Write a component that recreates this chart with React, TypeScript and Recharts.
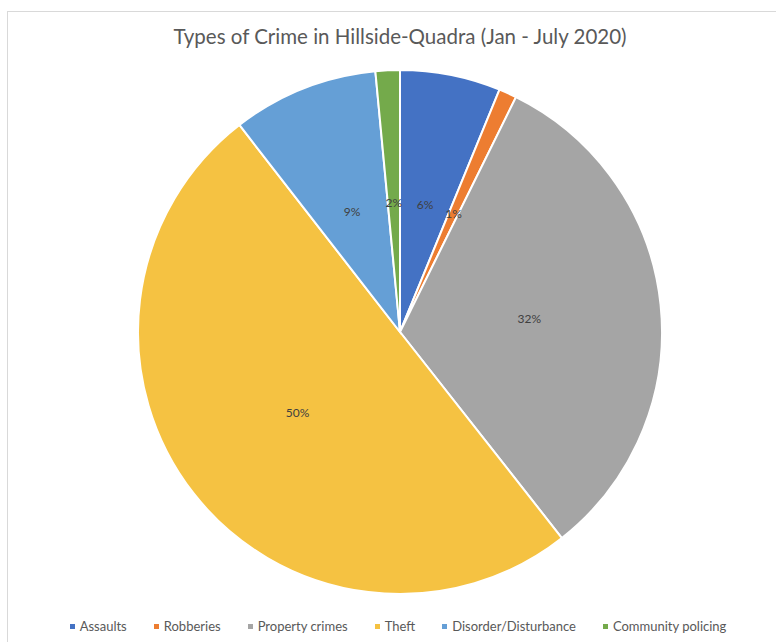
import { PieChart, Pie, Cell, Legend } from 'recharts'

const categories = [
  'Assaults',
  'Robberies',
  'Property crimes',
  'Theft',
  'Disorder/Disturbance',
  'Community policing',
]
const shares = [6.2, 1.1, 32.1, 50.1, 9.0, 1.5]
const colors = ['#4472C4', '#ED7D31', '#A5A5A5', '#F5C242', '#659FD6', '#74AA4B']

const data = categories.map((name, i) => ({ name, value: shares[i] }))

const RADIAN = Math.PI / 180

const renderLabel = (props: any) => {
  const { cx, cy, midAngle, percent } = props
  const r = 130
  const x = cx + r * Math.cos(-midAngle * RADIAN)
  const y = cy + r * Math.sin(-midAngle * RADIAN)
  return (
    <text
      x={x}
      y={y}
      fill="#404040"
      fontSize={12}
      fontFamily="Lato, sans-serif"
      textAnchor="middle"
      dominantBaseline="central"
    >
      {`${Math.round(percent * 100)}%`}
    </text>
  )
}

// keep the legend in the data order, not alphabetical
const renderLegend = (props: any) => {
  const items = [...props.payload].sort(
    (a: any, b: any) => categories.indexOf(a.value) - categories.indexOf(b.value)
  )
  return (
    <div
      style={{
        display: 'flex',
        justifyContent: 'center',
        gap: 27,
        fontFamily: 'Lato, sans-serif',
        fontSize: 13,
        color: '#595959',
        paddingLeft: 20,
      }}
    >
      {items.map((entry: any) => (
        <span key={entry.value} style={{ display: 'flex', alignItems: 'center' }}>
          <span
            style={{
              width: 5,
              height: 5,
              background: entry.color,
              marginRight: 5,
              display: 'inline-block',
            }}
          />
          {entry.value}
        </span>
      ))}
    </div>
  )
}

export default function App() {
  return (
    <div style={{ position: 'relative', width: 776, height: 642, overflow: 'hidden', background: '#fff' }}>
      <style>{'body{margin:0}'}</style>
      <div
        style={{
          position: 'absolute',
          left: 7,
          top: 11,
          width: 800,
          height: 700,
          border: '1px solid #D9D9D9',
        }}
      />
      <div
        style={{
          position: 'absolute',
          top: 24,
          left: 0,
          width: 800,
          textAlign: 'center',
          fontFamily: 'Lato, sans-serif',
          fontSize: 20.5,
          color: '#595959',
        }}
      >
        Types of Crime in Hillside-Quadra (Jan - July 2020)
      </div>
      <div style={{ position: 'absolute', left: 0, top: 0 }}>
        <PieChart width={776} height={642} margin={{ top: 0, right: 0, bottom: 0, left: 0 }}>
          <Pie
            data={data}
            dataKey="value"
            nameKey="name"
            cx={400}
            cy={332}
            outerRadius={262}
            startAngle={90}
            endAngle={-270}
            stroke="#fff"
            strokeWidth={2}
            label={renderLabel}
            labelLine={false}
            isAnimationActive={false}
          >
            {data.map((d, i) => (
              <Cell key={d.name} fill={colors[i]} />
            ))}
          </Pie>
          <Legend
            verticalAlign="bottom"
            itemSorter={null as any}
            content={renderLegend}
            wrapperStyle={{ bottom: 8 }}
          />
        </PieChart>
      </div>
    </div>
  )
}
